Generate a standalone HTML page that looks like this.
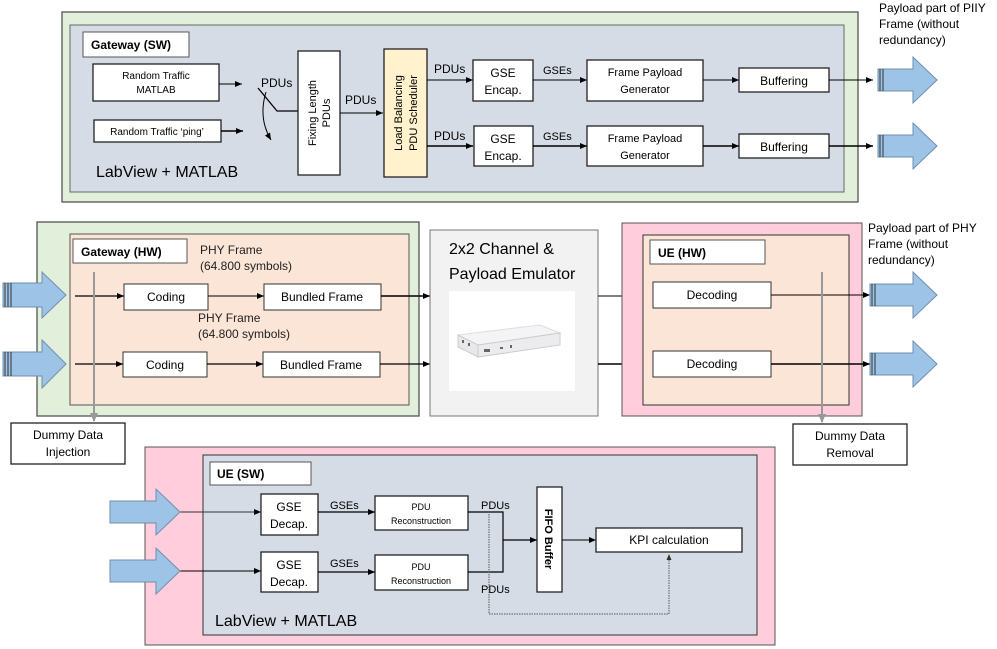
<!DOCTYPE html>
<html><head><meta charset="utf-8"><style>
html,body{margin:0;padding:0;background:#fff;}
svg{display:block;font-family:"Liberation Sans",sans-serif;}
</style></head><body>
<svg width="997" height="649" viewBox="0 0 997 649" xmlns="http://www.w3.org/2000/svg">
<defs>
<marker id="ah" markerWidth="8" markerHeight="8" refX="7" refY="4" orient="auto" markerUnits="userSpaceOnUse"><path d="M0,1 L7,4 L0,7 z" fill="#000"/></marker>
<marker id="ag" markerWidth="10" markerHeight="10" refX="8" refY="5" orient="auto" markerUnits="userSpaceOnUse"><path d="M0,1 L9,5 L0,9 z" fill="#999"/></marker>
<marker id="as" markerWidth="7" markerHeight="7" refX="6" refY="3.5" orient="auto" markerUnits="userSpaceOnUse"><path d="M0,1 L6,3.5 L0,6 z" fill="#333"/></marker>
</defs>

<!-- TOP SECTION -->
<rect x="62" y="12" width="796" height="190" fill="#e2efda" stroke="#555" stroke-width="1.3"/>
<rect x="70" y="25" width="774" height="167" fill="#d6dce5" stroke="#666" stroke-width="1"/>
<rect x="83" y="32" width="106" height="25" fill="#fff" stroke="#555"/>
<text x="91" y="49" font-size="12" font-weight="bold">Gateway (SW)</text>
<rect x="93" y="64" width="126" height="37" fill="#fff" stroke="#222" stroke-width="1.3"/>
<text x="156" y="79" font-size="10" text-anchor="middle">Random Traffic</text>
<text x="156" y="93" font-size="10" text-anchor="middle">MATLAB</text>
<rect x="94" y="120" width="127" height="22" fill="#fff" stroke="#222" stroke-width="1.3"/>
<text x="157" y="135" font-size="10" text-anchor="middle">Random Traffic ‘ping’</text>
<line x1="219" y1="84" x2="242" y2="84" stroke="#000" marker-end="url(#ah)"/>
<line x1="221" y1="131" x2="243" y2="131" stroke="#000" stroke-width="1.5" marker-end="url(#ah)"/>
<text x="261" y="87" font-size="12">PDUs</text>
<path d="M258,88 L277,111 L298,111" fill="none" stroke="#000" stroke-width="1.3"/>
<path d="M266,92 Q258,118 271,140" fill="none" stroke="#000" stroke-width="1" marker-end="url(#ah)"/>
<rect x="298" y="51" width="42" height="124" fill="#fff" stroke="#222" stroke-width="1.3"/>
<text transform="translate(316,113) rotate(-90)" font-size="11" text-anchor="middle">Fixing Length</text>
<text transform="translate(330,113) rotate(-90)" font-size="11" text-anchor="middle">PDUs</text>
<text x="345" y="104" font-size="12">PDUs</text>
<line x1="340" y1="113" x2="383" y2="113" stroke="#000" marker-end="url(#ah)"/>
<rect x="384" y="49" width="43" height="128" fill="#fff2cc" stroke="#222" stroke-width="1.3"/>
<text transform="translate(402,113) rotate(-90)" font-size="11" text-anchor="middle">Load Balancing</text>
<text transform="translate(417,113) rotate(-90)" font-size="11" text-anchor="middle">PDU Scheduler</text>
<text x="434" y="73" font-size="12">PDUs</text>
<text x="434" y="140" font-size="12">PDUs</text>
<line x1="427" y1="80" x2="473" y2="80" stroke="#000" marker-end="url(#ah)"/>
<line x1="427" y1="146" x2="473" y2="146" stroke="#000" stroke-width="1.5" marker-end="url(#ah)"/>
<rect x="473" y="60" width="60" height="41" fill="#fff" stroke="#222" stroke-width="1.3"/>
<text x="503" y="77" font-size="12" text-anchor="middle">GSE</text>
<text x="503" y="94" font-size="12" text-anchor="middle">Encap.</text>
<rect x="474" y="126" width="59" height="40" fill="#fff" stroke="#222" stroke-width="1.3"/>
<text x="503" y="143" font-size="12" text-anchor="middle">GSE</text>
<text x="503" y="160" font-size="12" text-anchor="middle">Encap.</text>
<text x="543" y="74" font-size="11">GSEs</text>
<text x="543" y="140" font-size="11">GSEs</text>
<line x1="533" y1="80" x2="587" y2="80" stroke="#000" marker-end="url(#ah)"/>
<line x1="533" y1="146" x2="587" y2="146" stroke="#000" stroke-width="1.5" marker-end="url(#ah)"/>
<rect x="587" y="60" width="116" height="41" fill="#fff" stroke="#222" stroke-width="1.3"/>
<text x="645" y="76" font-size="11" text-anchor="middle">Frame Payload</text>
<text x="645" y="93" font-size="11" text-anchor="middle">Generator</text>
<rect x="587" y="126" width="116" height="40" fill="#fff" stroke="#222" stroke-width="1.3"/>
<text x="645" y="142" font-size="11" text-anchor="middle">Frame Payload</text>
<text x="645" y="159" font-size="11" text-anchor="middle">Generator</text>
<line x1="703" y1="80" x2="739" y2="80" stroke="#000" marker-end="url(#ah)"/>
<line x1="703" y1="146" x2="739" y2="146" stroke="#000" stroke-width="1.5" marker-end="url(#ah)"/>
<rect x="739" y="68" width="90" height="24" fill="#fff" stroke="#222" stroke-width="1.3"/>
<text x="784" y="85" font-size="12" text-anchor="middle">Buffering</text>
<rect x="739" y="134" width="90" height="24" fill="#fff" stroke="#222" stroke-width="1.3"/>
<text x="784" y="151" font-size="12" text-anchor="middle">Buffering</text>
<line x1="829" y1="80" x2="873" y2="80" stroke="#000" marker-end="url(#ah)"/>
<line x1="829" y1="146" x2="873" y2="146" stroke="#000" stroke-width="1.5" marker-end="url(#ah)"/>
<text x="96" y="177" font-size="16">LabView + MATLAB</text>
<text font-size="12"><tspan x="879" y="12">Payload part of PIIY</tspan><tspan x="879" y="28">Frame (without</tspan><tspan x="879" y="44">redundancy)</tspan></text>

<!-- MIDDLE SECTION -->
<rect x="37" y="222" width="382" height="194" fill="#e2efda" stroke="#555" stroke-width="1.3"/>
<rect x="70" y="234" width="339" height="171" fill="#fbe5d6" stroke="#555" stroke-width="1"/>
<rect x="73" y="239" width="114" height="24" fill="#fff" stroke="#555"/>
<text x="81" y="256" font-size="12" font-weight="bold">Gateway (HW)</text>
<text x="200" y="254" font-size="12" fill="#222">PHY Frame</text>
<text x="200" y="270" font-size="12" fill="#222">(64.800 symbols)</text>
<text x="198" y="322" font-size="12" fill="#222">PHY Frame</text>
<text x="198" y="338" font-size="12" fill="#222">(64.800 symbols)</text>
<rect x="124" y="284" width="84" height="26" fill="#fff" stroke="#333"/>
<text x="166" y="301" font-size="12" text-anchor="middle">Coding</text>
<rect x="123" y="352" width="84" height="25" fill="#fff" stroke="#333"/>
<text x="165" y="369" font-size="12" text-anchor="middle">Coding</text>
<rect x="264" y="284" width="117" height="26" fill="#fff" stroke="#333"/>
<text x="322" y="301" font-size="12" text-anchor="middle">Bundled Frame</text>
<rect x="263" y="352" width="117" height="25" fill="#fff" stroke="#333"/>
<text x="321" y="369" font-size="12" text-anchor="middle">Bundled Frame</text>
<line x1="75" y1="296" x2="124" y2="296" stroke="#000" stroke-width="1.3" marker-end="url(#ah)"/>
<line x1="208" y1="296" x2="264" y2="296" stroke="#000" marker-end="url(#ah)"/>
<line x1="381" y1="296" x2="430" y2="296" stroke="#000" stroke-width="1.5" marker-end="url(#ah)"/>
<line x1="75" y1="364" x2="123" y2="364" stroke="#000" stroke-width="1.3" marker-end="url(#ah)"/>
<line x1="207" y1="364" x2="263" y2="364" stroke="#000" stroke-width="1.3" marker-end="url(#ah)"/>
<line x1="380" y1="364" x2="430" y2="364" stroke="#000" stroke-width="1.3" marker-end="url(#ah)"/>
<line x1="94" y1="272" x2="94" y2="421" stroke="#999" stroke-width="2" marker-end="url(#ag)"/>
<rect x="11" y="423" width="114" height="41" fill="#fff" stroke="#222" stroke-width="1.3"/>
<text x="68" y="439" font-size="12" text-anchor="middle">Dummy Data</text>
<text x="68" y="456" font-size="12" text-anchor="middle">Injection</text>

<rect x="430" y="230" width="168" height="186" fill="#f2f2f2" stroke="#777"/>
<text x="449" y="254" font-size="16">2x2 Channel &amp;</text>
<text x="449" y="279" font-size="16">Payload Emulator</text>
<rect x="449" y="291" width="126" height="100" fill="#fff"/>
<path d="M458,335 L540,325 L560,333 L478,345 Z" fill="#f4f4f6" stroke="#ddd"/>
<path d="M458,335 L478,345 L478,357 L458,347 Z" fill="#e8e8ea" stroke="#ccc"/>
<path d="M478,345 L560,333 L560,345 L478,357 Z" fill="#ececee" stroke="#ccc"/>
<g fill="#666"><rect x="462" y="340" width="2" height="3"/><rect x="468" y="343" width="2" height="3"/><rect x="484" y="349" width="6" height="3"/><rect x="500" y="347" width="3" height="2"/><rect x="510" y="345" width="2" height="3"/></g>
<line x1="598" y1="296" x2="642" y2="296" stroke="#000" marker-end="url(#ah)"/>
<line x1="598" y1="364" x2="642" y2="364" stroke="#000" stroke-width="1.5" marker-end="url(#ah)"/>

<rect x="622" y="223" width="240" height="193" fill="#ffcddb" stroke="#555" stroke-width="1"/>
<rect x="643" y="235" width="206" height="170" fill="#fbe5d6" stroke="#333" stroke-width="1"/>
<rect x="650" y="240" width="115" height="24" fill="#fff" stroke="#555"/>
<text x="658" y="257" font-size="12" font-weight="bold">UE (HW)</text>
<rect x="653" y="282" width="118" height="26" fill="#fff" stroke="#333"/>
<text x="712" y="299" font-size="12" text-anchor="middle">Decoding</text>
<rect x="653" y="351" width="118" height="26" fill="#fff" stroke="#333"/>
<text x="712" y="368" font-size="12" text-anchor="middle">Decoding</text>
<line x1="771" y1="295" x2="870" y2="295" stroke="#000" marker-end="url(#ah)"/>
<line x1="771" y1="364" x2="870" y2="364" stroke="#000" stroke-width="1.5" marker-end="url(#ah)"/>
<line x1="822" y1="272" x2="822" y2="422" stroke="#999" stroke-width="2" marker-end="url(#ag)"/>
<rect x="793" y="424" width="114" height="41" fill="#fff" stroke="#222" stroke-width="1.3"/>
<text x="850" y="440" font-size="12" text-anchor="middle">Dummy Data</text>
<text x="850" y="457" font-size="12" text-anchor="middle">Removal</text>
<text font-size="12"><tspan x="868" y="232">Payload part of PHY</tspan><tspan x="868" y="248">Frame (without</tspan><tspan x="868" y="264">redundancy)</tspan></text>

<!-- BOTTOM SECTION -->
<rect x="145" y="447" width="630" height="198" fill="#ffcddb" stroke="#555" stroke-width="1"/>
<rect x="203" y="455" width="554" height="180" fill="#d6dce5" stroke="#333" stroke-width="1"/>
<rect x="210" y="462" width="101" height="23" fill="#fff" stroke="#555"/>
<text x="217" y="478" font-size="12" font-weight="bold">UE (SW)</text>
<line x1="180" y1="512" x2="261" y2="512" stroke="#333" marker-end="url(#ah)"/>
<line x1="180" y1="571" x2="261" y2="571" stroke="#000" marker-end="url(#ah)"/>
<rect x="261" y="494" width="57" height="41" fill="#fff" stroke="#222" stroke-width="1.3"/>
<text x="289" y="511" font-size="12" text-anchor="middle">GSE</text>
<text x="289" y="528" font-size="12" text-anchor="middle">Decap.</text>
<rect x="261" y="552" width="57" height="40" fill="#fff" stroke="#222" stroke-width="1.3"/>
<text x="289" y="569" font-size="12" text-anchor="middle">GSE</text>
<text x="289" y="586" font-size="12" text-anchor="middle">Decap.</text>
<text x="330" y="509" font-size="11">GSEs</text>
<text x="330" y="567" font-size="11">GSEs</text>
<line x1="318" y1="512" x2="375" y2="512" stroke="#000" stroke-width="1.3" marker-end="url(#ah)"/>
<line x1="318" y1="572" x2="375" y2="572" stroke="#000" stroke-width="1.3" marker-end="url(#ah)"/>
<rect x="375" y="496" width="93" height="34" fill="#fff" stroke="#222" stroke-width="1.3"/>
<text x="421" y="510" font-size="9" text-anchor="middle">PDU</text>
<text x="421" y="524" font-size="9" text-anchor="middle">Reconstruction</text>
<rect x="375" y="555" width="93" height="35" fill="#fff" stroke="#222" stroke-width="1.3"/>
<text x="421" y="570" font-size="9" text-anchor="middle">PDU</text>
<text x="421" y="584" font-size="9" text-anchor="middle">Reconstruction</text>
<text x="481" y="509" font-size="11">PDUs</text>
<text x="481" y="593" font-size="11">PDUs</text>
<path d="M468,512 H503 V572 H468" fill="none" stroke="#000" stroke-width="1.2"/>
<line x1="503" y1="540" x2="537" y2="540" stroke="#000" stroke-width="1.3" marker-end="url(#ah)"/>
<path d="M489,514 V614 H669 V554" fill="none" stroke="#555" stroke-width="1" stroke-dasharray="1.5,1" marker-end="url(#as)"/>
<rect x="537" y="487" width="25" height="105" fill="#fff" stroke="#222" stroke-width="1.3"/>
<text transform="translate(545,539) rotate(90)" font-size="11" font-weight="bold" text-anchor="middle">FIFO Buffer</text>
<line x1="562" y1="540" x2="596" y2="540" stroke="#000" marker-end="url(#ah)"/>
<rect x="596" y="528" width="146" height="24" fill="#fff" stroke="#222" stroke-width="1.3"/>
<text x="669" y="544" font-size="12" text-anchor="middle">KPI calculation</text>
<text x="215" y="626" font-size="16">LabView + MATLAB</text>

<!-- big blue arrows (on top) -->
<g fill="#9dc3e6" stroke="#6f8fae" stroke-width="1">
<path d="M878,69 H913 V57 L937,80 L913,103 V91 H878 Z"/>
<path d="M878,135 H913 V123 L937,146 L913,169 V157 H878 Z"/>
<path d="M3,283 H42 V272 L66,295 L42,318 V307 H3 Z"/>
<path d="M3,352 H42 V340 L66,364 L42,388 V376 H3 Z"/>
<path d="M870,284 H913 V272 L937,295 L913,318 V306 H870 Z"/>
<path d="M870,353 H913 V341 L937,364 L913,387 V375 H870 Z"/>
<path d="M110,501 H156 V489 L180,512 L156,535 V523 H110 Z"/>
<path d="M110,560 H156 V548 L180,571 L156,594 V582 H110 Z"/>
</g>
<g stroke="#333" stroke-width="1">
<line x1="880" y1="69" x2="880" y2="91"/><line x1="883" y1="69" x2="883" y2="91"/>
<line x1="880" y1="135" x2="880" y2="157"/><line x1="883" y1="135" x2="883" y2="157"/>
<line x1="5" y1="283" x2="5" y2="307"/><line x1="8" y1="283" x2="8" y2="307"/><line x1="11" y1="283" x2="11" y2="307"/>
<line x1="5" y1="352" x2="5" y2="376"/><line x1="8" y1="352" x2="8" y2="376"/><line x1="11" y1="352" x2="11" y2="376"/>
<line x1="872" y1="284" x2="872" y2="306"/><line x1="875" y1="284" x2="875" y2="306"/>
<line x1="872" y1="353" x2="872" y2="375"/><line x1="875" y1="353" x2="875" y2="375"/>
</g>
</svg>
</body></html>
